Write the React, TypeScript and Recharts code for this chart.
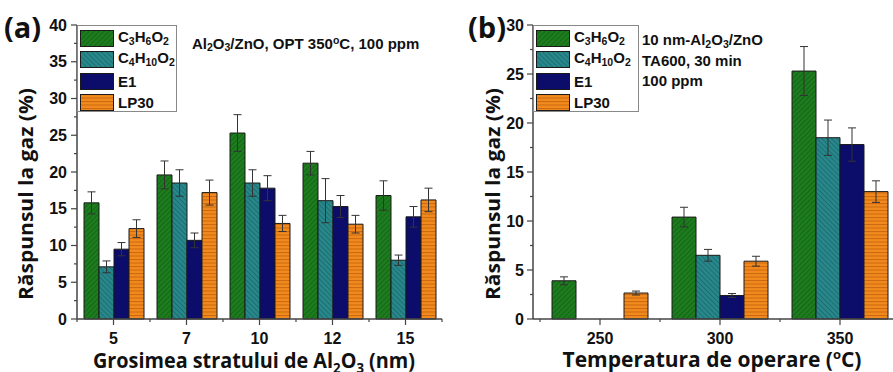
import React from "react";
import {
  BarChart,
  Bar,
  XAxis,
  YAxis,
  ErrorBar,
  Legend,
  Label,
} from "recharts";

// panel (a): thickness of the Al2O3 layer
const thickness = ["5", "7", "10", "12", "15"];
const aC3H6O2 = [15.8, 19.6, 25.3, 21.2, 16.8];
const aC3H6O2Err = [1.5, 1.9, 2.5, 1.6, 2.0];
const aC4H10O2 = [7.1, 18.5, 18.5, 16.1, 8.0];
const aC4H10O2Err = [0.8, 1.8, 1.8, 3.0, 0.7];
const aE1 = [9.5, 10.7, 17.8, 15.3, 13.9];
const aE1Err = [0.9, 1.0, 1.7, 1.5, 1.4];
const aLP30 = [12.3, 17.2, 13.0, 12.9, 16.2];
const aLP30Err = [1.2, 1.7, 1.1, 1.2, 1.6];

// panel (b): operating temperature
const temperature = ["250", "300", "350"];
const bC3H6O2 = [3.9, 10.4, 25.3];
const bC3H6O2Err = [0.4, 1.0, 2.5];
const bC4H10O2 = [0, 6.5, 18.5];
const bC4H10O2Err = [0, 0.6, 1.8];
const bE1 = [0, 2.4, 17.8];
const bE1Err = [0, 0.2, 1.7];
const bLP30 = [2.65, 5.9, 13.0];
const bLP30Err = [0.2, 0.5, 1.1];

const yTicksA = [0, 2.5, 5, 7.5, 10, 12.5, 15, 17.5, 20, 22.5, 25, 27.5, 30, 32.5, 35, 37.5, 40];
const yTicksB = [0, 2.5, 5, 7.5, 10, 12.5, 15, 17.5, 20, 22.5, 25, 27.5, 30];

const dataA = thickness.map((t, i) => ({
  t,
  c3: aC3H6O2[i],
  c3e: aC3H6O2Err[i],
  c4: aC4H10O2[i],
  c4e: aC4H10O2Err[i],
  e1: aE1[i],
  e1e: aE1Err[i],
  lp: aLP30[i],
  lpe: aLP30Err[i],
}));

const dataB = temperature.map((t, i) => ({
  t,
  c3: bC3H6O2[i],
  c3e: bC3H6O2Err[i],
  c4: bC4H10O2[i],
  c4e: bC4H10O2Err[i],
  e1: bE1[i],
  e1e: bE1Err[i],
  lp: bLP30[i],
  lpe: bLP30Err[i],
}));

const AXIS = "#444";
const TICK_FONT = "'Liberation Sans', Arial, sans-serif";
const TITLE_FONT = "'Open Sans', sans-serif";

const series = [
  { key: "c3", err: "c3e", pat: "patGreen" },
  { key: "c4", err: "c4e", pat: "patTeal" },
  { key: "e1", err: "e1e", pat: "patNavy" },
  { key: "lp", err: "lpe", pat: "patOrange" },
];

function Patterns({ id }: { id: string }) {
  return (
    <defs>
      <pattern id={`patGreen${id}`} width="3.5" height="3.5" patternUnits="userSpaceOnUse" patternTransform="rotate(45)">
        <rect width="3.5" height="3.5" fill="#1d7c1d" />
        <line x1="0" y1="0" x2="0" y2="3.5" stroke="#0f5a12" strokeWidth="1.2" />
      </pattern>
      <pattern id={`patTeal${id}`} width="3.5" height="3.5" patternUnits="userSpaceOnUse" patternTransform="rotate(-45)">
        <rect width="3.5" height="3.5" fill="#27878a" />
        <line x1="0" y1="0" x2="0" y2="3.5" stroke="#185f62" strokeWidth="1.2" />
      </pattern>
      <pattern id={`patNavy${id}`} width="4" height="4" patternUnits="userSpaceOnUse">
        <rect width="4" height="4" fill="#0c0c6a" />
      </pattern>
      <pattern id={`patOrange${id}`} width="4" height="3.5" patternUnits="userSpaceOnUse">
        <rect width="4" height="3.5" fill="#f28a1e" />
        <line x1="0" y1="0.5" x2="4" y2="0.5" stroke="#c8680f" strokeWidth="1" />
      </pattern>
    </defs>
  );
}

function Chem({ text }: { text: string }) {
  if (!text.startsWith("C")) return <>{text}</>;
  const parts = text.split(/(\d+)/).filter(Boolean);
  return (
    <>
      {parts.map((p, i) =>
        /\d/.test(p) ? (
          <sub key={i} style={{ fontSize: "0.7em", verticalAlign: "-0.25em" }}>{p}</sub>
        ) : (
          <span key={i}>{p}</span>
        )
      )}
    </>
  );
}

const legendNames = ["C3H6O2", "C4H10O2", "E1", "LP30"];

function LegendBox({ id, width }: { id: string; width: number }) {
  return (
    <div
      style={{
        width,
        height: 87,
        boxSizing: "border-box",
        border: "1px solid #888",
        background: "#fff",
        padding: "2px 0 0 2px",
      }}
    >
      {legendNames.map((n, i) => (
        <div key={n} style={{ display: "flex", alignItems: "center", height: 21.3 }}>
          <svg width={34} height={17} style={{ display: "block" }}>
            <rect x={0.5} y={0.5} width={33} height={16} fill={`url(#${series[i].pat}${id})`} stroke="#1a1a1a" />
          </svg>
          <span
            style={{
              marginLeft: 4,
              fontFamily: TICK_FONT,
              fontWeight: 700,
              fontSize: 15,
              color: "#111",
              lineHeight: "17px",
            }}
          >
            <Chem text={n} />
          </span>
        </div>
      ))}
    </div>
  );
}

function makeYTick(side: number) {
  return (props: any) => {
    const { x, y, payload } = props;
    const major = payload.value % 5 === 0;
    return (
      <g>
        <line x1={x - (major ? 6 : 3)} x2={x} y1={y} y2={y} stroke={AXIS} strokeWidth={1.2} />
        {major && (
          <text
            x={x - side}
            y={y}
            dy={5.5}
            textAnchor="end"
            fontFamily={TICK_FONT}
            fontWeight={700}
            fontSize={16}
            fill="#111"
          >
            {payload.value}
          </text>
        )}
      </g>
    );
  };
}

function makeXTick(halfBand: number, last: string) {
  return (props: any) => {
    const { x, y, payload } = props;
    return (
      <g>
        <line x1={x} x2={x} y1={y} y2={y + 6} stroke={AXIS} strokeWidth={1.2} />
        <line x1={x - halfBand} x2={x - halfBand} y1={y} y2={y + 3} stroke={AXIS} strokeWidth={1.2} />
        {payload.value === last && (
          <line x1={x + halfBand} x2={x + halfBand} y1={y} y2={y + 3} stroke={AXIS} strokeWidth={1.2} />
        )}
        <text
          x={x}
          y={y + 25}
          textAnchor="middle"
          fontFamily={TICK_FONT}
          fontWeight={700}
          fontSize={16}
          fill="#111"
        >
          {payload.value}
        </text>
      </g>
    );
  };
}

function YTitle({ cx, cy }: { cx: number; cy: number }) {
  return (
    <text
      x={cx}
      y={cy}
      transform={`rotate(-90, ${cx}, ${cy})`}
      textAnchor="middle"
      dominantBaseline="central"
      fontFamily={TITLE_FONT}
      fontWeight={700}
      fontSize={20}
      fill="#111"
      textLength={212}
      lengthAdjust="spacingAndGlyphs"
    >
      Răspunsul la gaz (%)
    </text>
  );
}

const boxText: React.CSSProperties = {
  position: "absolute",
  fontFamily: TICK_FONT,
  fontWeight: 700,
  fontSize: 15,
  color: "#111",
  whiteSpace: "nowrap",
  lineHeight: "18px",
};

const panelLabel: React.CSSProperties = {
  position: "absolute",
  fontFamily: TITLE_FONT,
  fontWeight: 700,
  fontSize: 29,
  color: "#111",
  lineHeight: "34px",
};

export default function App() {
  return (
    <div style={{ position: "absolute", left: 0, top: 0, width: 893, height: 372, background: "#fff", overflow: "hidden" }}>
      {/* panel (a) */}
      <div style={{ position: "absolute", left: 0, top: 0 }}>
        <BarChart
          width={450}
          height={372}
          data={dataA}
          margin={{ top: 25, right: 8, bottom: 0, left: 27 }}
          barGap={0}
          barSize={15}
        >
          <Patterns id="A" />
          <XAxis
            dataKey="t"
            height={53}
            axisLine={{ stroke: AXIS, strokeWidth: 1.5 }}
            tickLine={false}
            tickSize={0}
            tickMargin={0}
            interval={0}
            tick={makeXTick(36.5, "15")}
          >
            <Label
              content={() => (
                <text
                  x={254}
                  y={368}
                  textAnchor="middle"
                  fontFamily={TITLE_FONT}
                  fontWeight={700}
                  fontSize={21}
                  fill="#111"
                  textLength={322}
                  lengthAdjust="spacingAndGlyphs"
                >
                  Grosimea stratului de Al
                  <tspan dy={5} fontSize={14}>2</tspan>
                  <tspan dy={-5}>O</tspan>
                  <tspan dy={5} fontSize={14}>3</tspan>
                  <tspan dy={-5}> (nm)</tspan>
                </text>
              )}
            />
          </XAxis>
          <XAxis xAxisId="top" dataKey="t" orientation="top" height={0} tick={false} tickLine={false} axisLine={{ stroke: AXIS, strokeWidth: 1.5 }} />
          <YAxis
            width={50}
            domain={[0, 40]}
            ticks={yTicksA}
            interval={0}
            axisLine={{ stroke: AXIS, strokeWidth: 1.5 }}
            tickLine={false}
            tickSize={0}
            tickMargin={0}
            tick={makeYTick(10)}
          >
            <Label content={() => <YTitle cx={25} cy={194} />} />
          </YAxis>
          <YAxis yAxisId="r" orientation="right" width={0} domain={[0, 40]} tick={false} tickLine={false} axisLine={{ stroke: AXIS, strokeWidth: 1.5 }} />
          <Legend
            layout="horizontal"
            verticalAlign="middle"
            align="center"
            wrapperStyle={{ left: 77, top: 25, width: "auto" }}
            content={() => <LegendBox id="A" width={100} />}
          />
          {series.map((s) => (
            <Bar key={s.key} dataKey={s.key} fill={`url(#${s.pat}A)`} stroke="#1a1a1a" strokeWidth={1} isAnimationActive={false}>
              <ErrorBar dataKey={s.err} direction="y" width={4} stroke="#333" strokeWidth={1} />
            </Bar>
          ))}
        </BarChart>
      </div>
      <div style={{ ...boxText, left: 192, top: 31 }}>
        Al<sub style={{ fontSize: "0.7em", verticalAlign: "-0.25em" }}>2</sub>O
        <sub style={{ fontSize: "0.7em", verticalAlign: "-0.25em" }}>3</sub>/ZnO, OPT 350
        <sup style={{ fontSize: "0.7em", verticalAlign: "0.45em" }}>o</sup>C, 100 ppm
      </div>
      <div style={{ ...panelLabel, left: 4, top: 10 }}>(a)</div>

      {/* panel (b) */}
      <div style={{ position: "absolute", left: 450, top: 0, width: 443, height: 372, overflow: "hidden" }}>
        <BarChart
          width={480}
          height={372}
          data={dataB}
          margin={{ top: 25, right: 23, bottom: 0, left: 33 }}
          barGap={0}
          barSize={24}
        >
          <Patterns id="B" />
          <XAxis
            dataKey="t"
            height={53}
            padding={{ left: 7, right: 7 }}
            axisLine={{ stroke: AXIS, strokeWidth: 1.5 }}
            tickLine={false}
            tickSize={0}
            tickMargin={0}
            interval={0}
            tick={makeXTick(60, "350")}
          >
            <Label
              content={() => (
                <text
                  x={262}
                  y={367}
                  textAnchor="middle"
                  fontFamily={TITLE_FONT}
                  fontWeight={700}
                  fontSize={21}
                  fill="#111"
                  textLength={299}
                  lengthAdjust="spacingAndGlyphs"
                >
                  Temperatura de operare (
                  <tspan dy={-8} fontSize={13}>o</tspan>
                  <tspan dy={8}>C)</tspan>
                </text>
              )}
            />
          </XAxis>
          <XAxis xAxisId="top" dataKey="t" orientation="top" height={0} padding={{ left: 7, right: 7 }} tick={false} tickLine={false} axisLine={{ stroke: AXIS, strokeWidth: 1.5 }} />
          <YAxis
            width={50}
            domain={[0, 30]}
            ticks={yTicksB}
            interval={0}
            axisLine={{ stroke: AXIS, strokeWidth: 1.5 }}
            tickLine={false}
            tickSize={0}
            tickMargin={0}
            tick={makeYTick(9)}
          >
            <Label content={() => <YTitle cx={42} cy={194} />} />
          </YAxis>
          <Legend
            layout="horizontal"
            verticalAlign="middle"
            align="center"
            wrapperStyle={{ left: 83, top: 25, width: "auto" }}
            content={() => <LegendBox id="B" width={106} />}
          />
          {series.map((s) => (
            <Bar key={s.key} dataKey={s.key} fill={`url(#${s.pat}B)`} stroke="#1a1a1a" strokeWidth={1} isAnimationActive={false}>
              <ErrorBar dataKey={s.err} direction="y" width={4} stroke="#333" strokeWidth={1} />
            </Bar>
          ))}
        </BarChart>
        <div style={{ ...boxText, left: 192, top: 31 }}>
          10 nm-Al<sub style={{ fontSize: "0.7em", verticalAlign: "-0.25em" }}>2</sub>O
          <sub style={{ fontSize: "0.7em", verticalAlign: "-0.25em" }}>3</sub>/ZnO
        </div>
        <div style={{ ...boxText, left: 192, top: 52 }}>TA600, 30 min</div>
        <div style={{ ...boxText, left: 192, top: 72 }}>100 ppm</div>
        <div style={{ ...panelLabel, left: 18, top: 10 }}>(b)</div>
      </div>
    </div>
  );
}
